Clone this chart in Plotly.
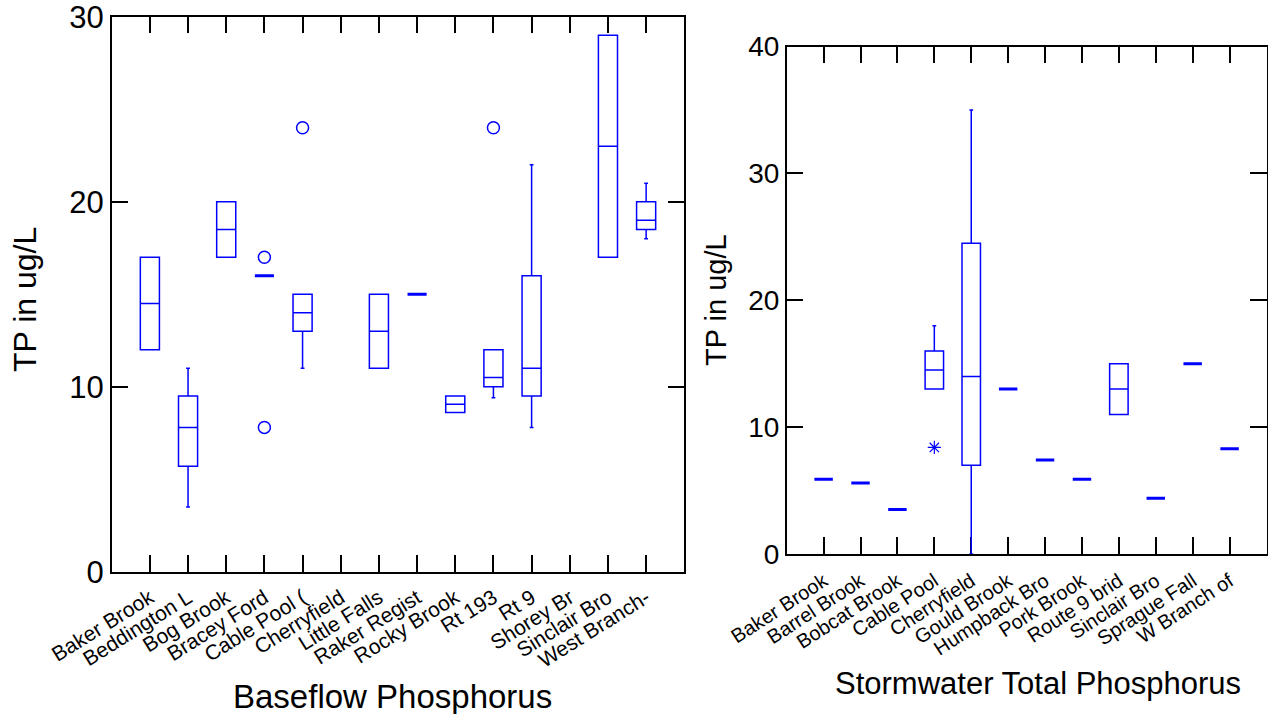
import plotly.graph_objects as go

# Baseflow phosphorus (left panel)
base_sites = ["Baker Brook", "Beddington L", "Bog Brook", "Bracey Ford", "Cable Pool (",
              "Cherryfield", "Little Falls", "Raker Regist", "Rocky Brook", "Rt 193",
              "Rt 9", "Shorey Br", "Sinclair Bro", "West Branch-"]
base_box_sites = ["Baker Brook", "Beddington L", "Bog Brook", "Bracey Ford", "Cable Pool (",
                  "Little Falls", "Raker Regist", "Rocky Brook", "Rt 193", "Rt 9",
                  "Sinclair Bro", "West Branch-"]
base_low = [12, 3.5, 17, 16, 11, 11, 15, 8.6, 9.4, 7.8, 17, 18]
base_q1 = [12, 5.7, 17, 16, 13, 11, 15, 8.6, 10, 9.5, 17, 18.5]
base_med = [14.5, 7.8, 18.5, 16, 14, 13, 15, 9.05, 10.5, 11, 23, 19]
base_q3 = [17, 9.5, 20, 16, 15, 15, 15, 9.5, 12, 16, 29, 20]
base_high = [17, 11, 20, 16, 15, 15, 15, 9.5, 12, 22, 29, 21]
base_out_sites = ["Bracey Ford", "Bracey Ford", "Cable Pool (", "Rt 193"]
base_out_vals = [17, 7.8, 24, 24]

# Stormwater total phosphorus (right panel)
storm_sites = ["Baker Brook", "Barrel Brook", "Bobcat Brook", "Cable Pool", "Cherryfield",
               "Gould Brook", "Humpback Bro", "Pork Brook", "Route 9 brid", "Sinclair Bro",
               "Sprague Fall", "W Branch of"]
storm_low = [5.9, 5.6, 3.5, 13, 0, 13, 7.4, 5.9, 11, 4.4, 15, 8.3]
storm_q1 = [5.9, 5.6, 3.5, 13, 7, 13, 7.4, 5.9, 11, 4.4, 15, 8.3]
storm_med = [5.9, 5.6, 3.5, 14.5, 14, 13, 7.4, 5.9, 13, 4.4, 15, 8.3]
storm_q3 = [5.9, 5.6, 3.5, 16, 24.5, 13, 7.4, 5.9, 15, 4.4, 15, 8.3]
storm_high = [5.9, 5.6, 3.5, 18, 35, 13, 7.4, 5.9, 15, 4.4, 15, 8.3]
storm_out_sites = ["Cable Pool"]
storm_out_vals = [8.4]

BLUE = "#0000ff"
FONT = "Liberation Sans, Arial, sans-serif"


def add_boxes(fig, sites, low, q1, med, q3, high, xa, ya):
    # single-value sites collapse to a line, drawn a little heavier
    for flat in (False, True):
        idx = [i for i in range(len(sites)) if (low[i] == high[i]) == flat]
        if not idx:
            continue
        fig.add_trace(go.Box(
            x=[sites[i] for i in idx],
            q1=[q1[i] for i in idx], median=[med[i] for i in idx], q3=[q3[i] for i in idx],
            lowerfence=[low[i] for i in idx], upperfence=[high[i] for i in idx],
            width=0.5, whiskerwidth=0.2, boxpoints=False,
            line=dict(color=BLUE, width=3 if flat else 1.5), fillcolor="rgba(0,0,0,0)",
            xaxis=xa, yaxis=ya, showlegend=False
        ))


fig = go.Figure()

add_boxes(fig, base_box_sites, base_low, base_q1, base_med, base_q3, base_high, "x", "y")
fig.add_trace(go.Scatter(
    x=base_out_sites, y=base_out_vals, mode="markers",
    marker=dict(symbol="circle-open", size=12, color=BLUE, line=dict(width=1.5)),
    xaxis="x", yaxis="y", showlegend=False
))

add_boxes(fig, storm_sites, storm_low, storm_q1, storm_med, storm_q3, storm_high, "x2", "y2")
fig.add_trace(go.Scatter(
    x=storm_out_sites, y=storm_out_vals, mode="markers",
    marker=dict(symbol="asterisk-open", size=11, color=BLUE, line=dict(width=1.2, color=BLUE)),
    xaxis="x2", yaxis="y2", showlegend=False
))

axis_common = dict(
    showline=True, linecolor="black", linewidth=1.5, mirror="ticks",
    ticks="inside", ticklen=17, tickwidth=1.5, tickcolor="black",
    showgrid=False, zeroline=False, automargin=False,
    layer="below traces", ticklabeloverflow="allow",
)

fig.update_layout(
    width=1268, height=714, autosize=False,
    margin=dict(l=0, r=0, t=0, b=0),
    paper_bgcolor="white", plot_bgcolor="white",
    font=dict(family=FONT, color="black"),
    xaxis=dict(domain=[111.7 / 1268, 684.3 / 1268], anchor="y",
               type="category", categoryorder="array", categoryarray=base_sites,
               tickvals=base_sites, range=[-1, 14], tickangle=-32, ticklabelstandoff=4,
               tickfont=dict(size=21), **axis_common),
    yaxis=dict(domain=[1 - 571.7 / 714, 1 - 16.7 / 714], anchor="x",
               range=[0, 30], dtick=10, tickfont=dict(size=31), **axis_common),
    xaxis2=dict(domain=[786.7 / 1268, 1266.5 / 1268], anchor="y2",
                type="category", categoryorder="array", categoryarray=storm_sites,
                tickvals=storm_sites, range=[-1, 12], tickangle=-33, ticklabelstandoff=6,
                tickfont=dict(size=20), **axis_common),
    yaxis2=dict(domain=[1 - 554 / 714, 1 - 46.5 / 714], anchor="x2",
                range=[0, 40], dtick=10, tickfont=dict(size=28), **axis_common),
    annotations=[
        dict(text="TP in ug/L", x=25 / 1268, y=1 - 300 / 714, xref="paper", yref="paper",
             textangle=-90, showarrow=False, font=dict(size=32),
             xanchor="center", yanchor="middle"),
        dict(text="Baseflow Phosphorus", x=392 / 1268, y=1 - 696 / 714, xref="paper",
             yref="paper", showarrow=False, font=dict(size=33),
             xanchor="center", yanchor="middle"),
        dict(text="TP in ug/L", x=716 / 1268, y=1 - 300 / 714, xref="paper", yref="paper",
             textangle=-90, showarrow=False, font=dict(size=29),
             xanchor="center", yanchor="middle"),
        dict(text="Stormwater Total Phosphorus", x=1038 / 1268, y=1 - 683 / 714,
             xref="paper", yref="paper", showarrow=False, font=dict(size=31),
             xanchor="center", yanchor="middle"),
    ],
)

fig.write_html(
    "out.html",
    config={"displayModeBar": False},
    post_script="document.body.style.margin='0';document.body.style.overflow='hidden';",
)
